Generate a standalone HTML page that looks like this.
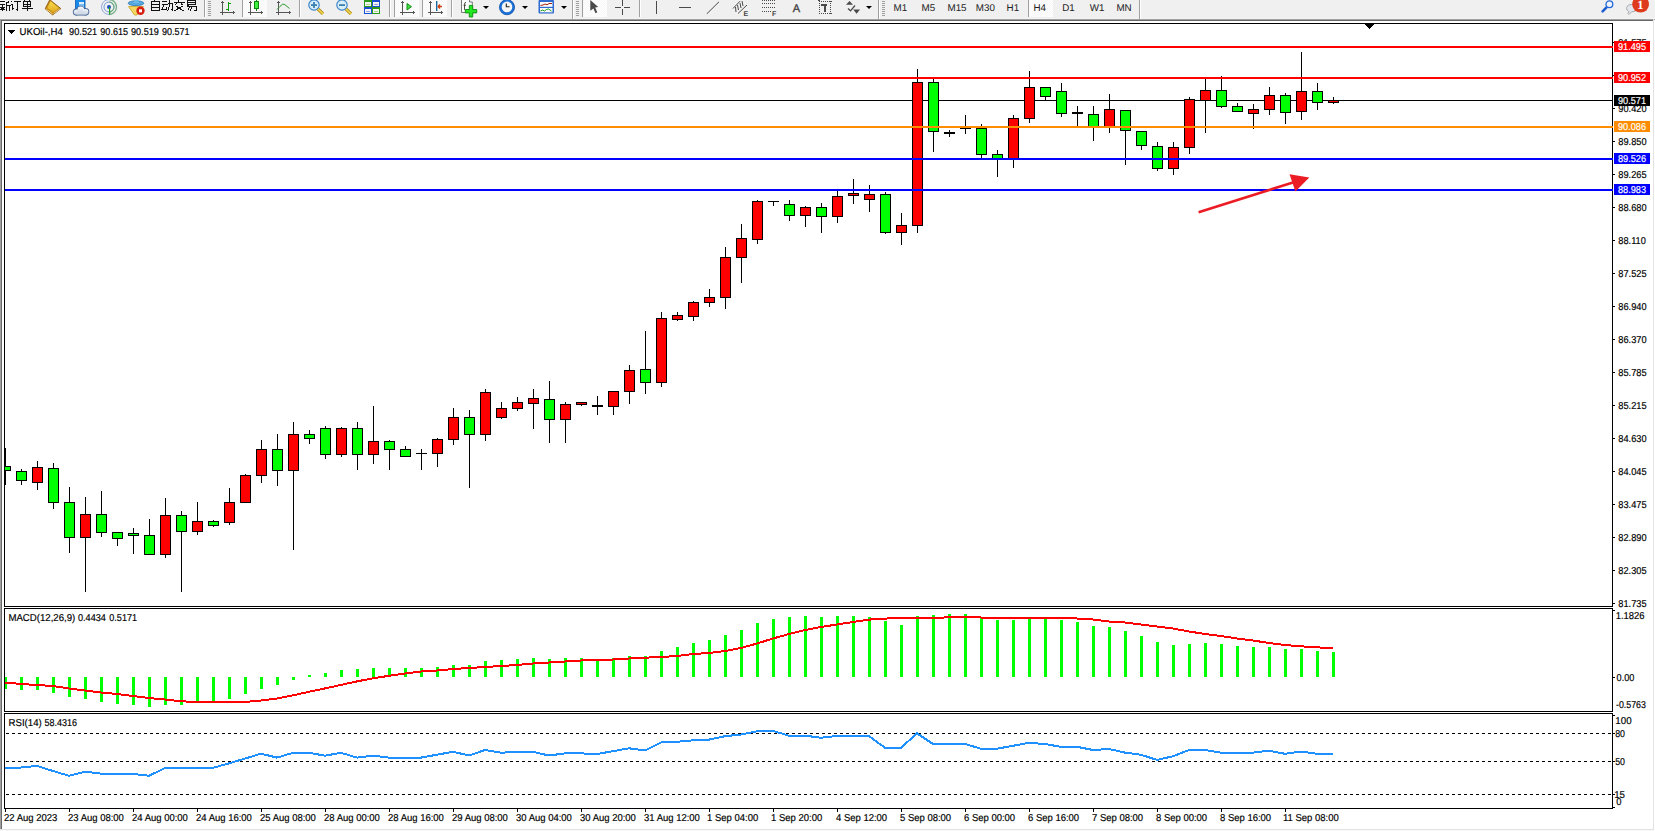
<!DOCTYPE html>
<html><head><meta charset="utf-8"><style>
html,body{margin:0;padding:0;background:#f0f0f0;overflow:hidden}
body{width:1655px;height:831px;position:relative}
svg text{font-family:"Liberation Sans",sans-serif;font-size:9.4px;fill:#000;text-rendering:geometricPrecision}
.tl{font-size:9.5px}
</style></head><body>
<svg width="1655" height="831" viewBox="0 0 1655 831" style="position:absolute;left:0;top:0;display:block">
<rect x="0" y="0" width="1655" height="19" fill="#f0f0f0"/>
<g shape-rendering="crispEdges">
<rect x="0" y="19" width="1654" height="1" fill="#a0a0a0"/>
<rect x="0" y="19" width="1" height="811" fill="#a0a0a0"/>
<rect x="1" y="20" width="1652" height="1" fill="#696969"/>
<rect x="1" y="20" width="1" height="809" fill="#696969"/>
<rect x="2" y="21" width="1651" height="808" fill="#ffffff"/>
<rect x="1653" y="19" width="1" height="811" fill="#e3e3e3"/>
<rect x="0" y="829" width="1654" height="1" fill="#e3e3e3"/>
<rect x="0" y="830" width="1655" height="1" fill="#f8f8f8"/>
<rect x="1654" y="19" width="1" height="1" fill="#a0a0a0"/>
<rect x="1654" y="20" width="1" height="811" fill="#ffffff"/>
<rect x="1" y="18" width="1653" height="1" fill="#f4f4f4"/>
<svg x="5" y="24" width="1607" height="582" overflow="hidden"><g transform="translate(-5,-24)">
<rect x="5" y="100" width="1607" height="1" fill="#000"/>
<rect x="5" y="448" width="1" height="37" fill="#000"/>
<rect x="0" y="466" width="11" height="5" fill="#000"/>
<rect x="1" y="467" width="9" height="3" fill="#00ff00"/>
<rect x="21" y="469" width="1" height="16" fill="#000"/>
<rect x="16" y="471" width="11" height="10" fill="#000"/>
<rect x="17" y="472" width="9" height="8" fill="#00ff00"/>
<rect x="37" y="461" width="1" height="29" fill="#000"/>
<rect x="32" y="467" width="11" height="16" fill="#000"/>
<rect x="33" y="468" width="9" height="14" fill="#ff0000"/>
<rect x="53" y="463" width="1" height="46" fill="#000"/>
<rect x="48" y="468" width="11" height="35" fill="#000"/>
<rect x="49" y="469" width="9" height="33" fill="#00ff00"/>
<rect x="69" y="487" width="1" height="66" fill="#000"/>
<rect x="64" y="502" width="11" height="36" fill="#000"/>
<rect x="65" y="503" width="9" height="34" fill="#00ff00"/>
<rect x="85" y="497" width="1" height="95" fill="#000"/>
<rect x="80" y="514" width="11" height="24" fill="#000"/>
<rect x="81" y="515" width="9" height="22" fill="#ff0000"/>
<rect x="101" y="491" width="1" height="46" fill="#000"/>
<rect x="96" y="514" width="11" height="19" fill="#000"/>
<rect x="97" y="515" width="9" height="17" fill="#00ff00"/>
<rect x="117" y="532" width="1" height="14" fill="#000"/>
<rect x="112" y="532" width="11" height="7" fill="#000"/>
<rect x="113" y="533" width="9" height="5" fill="#00ff00"/>
<rect x="133" y="528" width="1" height="26" fill="#000"/>
<rect x="128" y="533" width="11" height="3" fill="#000"/>
<rect x="129" y="534" width="9" height="1" fill="#00ff00"/>
<rect x="149" y="519" width="1" height="36" fill="#000"/>
<rect x="144" y="535" width="11" height="20" fill="#000"/>
<rect x="145" y="536" width="9" height="18" fill="#00ff00"/>
<rect x="165" y="498" width="1" height="60" fill="#000"/>
<rect x="160" y="515" width="11" height="40" fill="#000"/>
<rect x="161" y="516" width="9" height="38" fill="#ff0000"/>
<rect x="181" y="511" width="1" height="81" fill="#000"/>
<rect x="176" y="515" width="11" height="17" fill="#000"/>
<rect x="177" y="516" width="9" height="15" fill="#00ff00"/>
<rect x="197" y="502" width="1" height="33" fill="#000"/>
<rect x="192" y="521" width="11" height="11" fill="#000"/>
<rect x="193" y="522" width="9" height="9" fill="#ff0000"/>
<rect x="213" y="520" width="1" height="7" fill="#000"/>
<rect x="208" y="521" width="11" height="5" fill="#000"/>
<rect x="209" y="522" width="9" height="3" fill="#00ff00"/>
<rect x="229" y="488" width="1" height="37" fill="#000"/>
<rect x="224" y="502" width="11" height="21" fill="#000"/>
<rect x="225" y="503" width="9" height="19" fill="#ff0000"/>
<rect x="245" y="474" width="1" height="29" fill="#000"/>
<rect x="240" y="475" width="11" height="28" fill="#000"/>
<rect x="241" y="476" width="9" height="26" fill="#ff0000"/>
<rect x="261" y="440" width="1" height="43" fill="#000"/>
<rect x="256" y="449" width="11" height="27" fill="#000"/>
<rect x="257" y="450" width="9" height="25" fill="#ff0000"/>
<rect x="277" y="434" width="1" height="52" fill="#000"/>
<rect x="272" y="449" width="11" height="22" fill="#000"/>
<rect x="273" y="450" width="9" height="20" fill="#00ff00"/>
<rect x="293" y="422" width="1" height="128" fill="#000"/>
<rect x="288" y="434" width="11" height="37" fill="#000"/>
<rect x="289" y="435" width="9" height="35" fill="#ff0000"/>
<rect x="309" y="430" width="1" height="14" fill="#000"/>
<rect x="304" y="434" width="11" height="5" fill="#000"/>
<rect x="305" y="435" width="9" height="3" fill="#00ff00"/>
<rect x="325" y="426" width="1" height="33" fill="#000"/>
<rect x="320" y="428" width="11" height="27" fill="#000"/>
<rect x="321" y="429" width="9" height="25" fill="#00ff00"/>
<rect x="341" y="427" width="1" height="30" fill="#000"/>
<rect x="336" y="428" width="11" height="27" fill="#000"/>
<rect x="337" y="429" width="9" height="25" fill="#ff0000"/>
<rect x="357" y="422" width="1" height="48" fill="#000"/>
<rect x="352" y="428" width="11" height="27" fill="#000"/>
<rect x="353" y="429" width="9" height="25" fill="#00ff00"/>
<rect x="373" y="406" width="1" height="58" fill="#000"/>
<rect x="368" y="441" width="11" height="14" fill="#000"/>
<rect x="369" y="442" width="9" height="12" fill="#ff0000"/>
<rect x="389" y="440" width="1" height="30" fill="#000"/>
<rect x="384" y="441" width="11" height="9" fill="#000"/>
<rect x="385" y="442" width="9" height="7" fill="#00ff00"/>
<rect x="405" y="446" width="1" height="11" fill="#000"/>
<rect x="400" y="449" width="11" height="8" fill="#000"/>
<rect x="401" y="450" width="9" height="6" fill="#00ff00"/>
<rect x="421" y="449" width="1" height="21" fill="#000"/>
<rect x="416" y="453" width="11" height="1" fill="#000"/>
<rect x="437" y="438" width="1" height="29" fill="#000"/>
<rect x="432" y="439" width="11" height="15" fill="#000"/>
<rect x="433" y="440" width="9" height="13" fill="#ff0000"/>
<rect x="453" y="408" width="1" height="37" fill="#000"/>
<rect x="448" y="417" width="11" height="23" fill="#000"/>
<rect x="449" y="418" width="9" height="21" fill="#ff0000"/>
<rect x="469" y="410" width="1" height="78" fill="#000"/>
<rect x="464" y="417" width="11" height="18" fill="#000"/>
<rect x="465" y="418" width="9" height="16" fill="#00ff00"/>
<rect x="485" y="389" width="1" height="52" fill="#000"/>
<rect x="480" y="392" width="11" height="43" fill="#000"/>
<rect x="481" y="393" width="9" height="41" fill="#ff0000"/>
<rect x="501" y="402" width="1" height="17" fill="#000"/>
<rect x="496" y="408" width="11" height="10" fill="#000"/>
<rect x="497" y="409" width="9" height="8" fill="#ff0000"/>
<rect x="517" y="397" width="1" height="14" fill="#000"/>
<rect x="512" y="402" width="11" height="7" fill="#000"/>
<rect x="513" y="403" width="9" height="5" fill="#ff0000"/>
<rect x="533" y="389" width="1" height="40" fill="#000"/>
<rect x="528" y="398" width="11" height="6" fill="#000"/>
<rect x="529" y="399" width="9" height="4" fill="#ff0000"/>
<rect x="549" y="381" width="1" height="62" fill="#000"/>
<rect x="544" y="399" width="11" height="21" fill="#000"/>
<rect x="545" y="400" width="9" height="19" fill="#00ff00"/>
<rect x="565" y="402" width="1" height="41" fill="#000"/>
<rect x="560" y="404" width="11" height="16" fill="#000"/>
<rect x="561" y="405" width="9" height="14" fill="#ff0000"/>
<rect x="581" y="402" width="1" height="4" fill="#000"/>
<rect x="576" y="402" width="11" height="3" fill="#000"/>
<rect x="577" y="403" width="9" height="1" fill="#ff0000"/>
<rect x="597" y="396" width="1" height="19" fill="#000"/>
<rect x="592" y="405" width="11" height="2" fill="#000"/>
<rect x="613" y="391" width="1" height="24" fill="#000"/>
<rect x="608" y="391" width="11" height="16" fill="#000"/>
<rect x="609" y="392" width="9" height="14" fill="#ff0000"/>
<rect x="629" y="365" width="1" height="39" fill="#000"/>
<rect x="624" y="370" width="11" height="22" fill="#000"/>
<rect x="625" y="371" width="9" height="20" fill="#ff0000"/>
<rect x="645" y="331" width="1" height="63" fill="#000"/>
<rect x="640" y="369" width="11" height="14" fill="#000"/>
<rect x="641" y="370" width="9" height="12" fill="#00ff00"/>
<rect x="661" y="312" width="1" height="75" fill="#000"/>
<rect x="656" y="318" width="11" height="65" fill="#000"/>
<rect x="657" y="319" width="9" height="63" fill="#ff0000"/>
<rect x="677" y="312" width="1" height="9" fill="#000"/>
<rect x="672" y="315" width="11" height="5" fill="#000"/>
<rect x="673" y="316" width="9" height="3" fill="#ff0000"/>
<rect x="693" y="301" width="1" height="20" fill="#000"/>
<rect x="688" y="302" width="11" height="15" fill="#000"/>
<rect x="689" y="303" width="9" height="13" fill="#ff0000"/>
<rect x="709" y="289" width="1" height="18" fill="#000"/>
<rect x="704" y="297" width="11" height="6" fill="#000"/>
<rect x="705" y="298" width="9" height="4" fill="#ff0000"/>
<rect x="725" y="247" width="1" height="62" fill="#000"/>
<rect x="720" y="257" width="11" height="41" fill="#000"/>
<rect x="721" y="258" width="9" height="39" fill="#ff0000"/>
<rect x="741" y="224" width="1" height="59" fill="#000"/>
<rect x="736" y="238" width="11" height="20" fill="#000"/>
<rect x="737" y="239" width="9" height="18" fill="#ff0000"/>
<rect x="757" y="200" width="1" height="44" fill="#000"/>
<rect x="752" y="201" width="11" height="39" fill="#000"/>
<rect x="753" y="202" width="9" height="37" fill="#ff0000"/>
<rect x="773" y="201" width="1" height="5" fill="#000"/>
<rect x="768" y="201" width="11" height="1" fill="#000"/>
<rect x="789" y="200" width="1" height="21" fill="#000"/>
<rect x="784" y="204" width="11" height="12" fill="#000"/>
<rect x="785" y="205" width="9" height="10" fill="#00ff00"/>
<rect x="805" y="206" width="1" height="21" fill="#000"/>
<rect x="800" y="207" width="11" height="9" fill="#000"/>
<rect x="801" y="208" width="9" height="7" fill="#ff0000"/>
<rect x="821" y="203" width="1" height="30" fill="#000"/>
<rect x="816" y="207" width="11" height="10" fill="#000"/>
<rect x="817" y="208" width="9" height="8" fill="#00ff00"/>
<rect x="837" y="191" width="1" height="32" fill="#000"/>
<rect x="832" y="196" width="11" height="21" fill="#000"/>
<rect x="833" y="197" width="9" height="19" fill="#ff0000"/>
<rect x="853" y="179" width="1" height="25" fill="#000"/>
<rect x="848" y="193" width="11" height="3" fill="#000"/>
<rect x="849" y="194" width="9" height="1" fill="#ff0000"/>
<rect x="869" y="185" width="1" height="27" fill="#000"/>
<rect x="864" y="194" width="11" height="6" fill="#000"/>
<rect x="865" y="195" width="9" height="4" fill="#ff0000"/>
<rect x="885" y="192" width="1" height="42" fill="#000"/>
<rect x="880" y="194" width="11" height="39" fill="#000"/>
<rect x="881" y="195" width="9" height="37" fill="#00ff00"/>
<rect x="901" y="213" width="1" height="32" fill="#000"/>
<rect x="896" y="225" width="11" height="8" fill="#000"/>
<rect x="897" y="226" width="9" height="6" fill="#ff0000"/>
<rect x="917" y="69" width="1" height="164" fill="#000"/>
<rect x="912" y="82" width="11" height="144" fill="#000"/>
<rect x="913" y="83" width="9" height="142" fill="#ff0000"/>
<rect x="933" y="79" width="1" height="73" fill="#000"/>
<rect x="928" y="82" width="11" height="50" fill="#000"/>
<rect x="929" y="83" width="9" height="48" fill="#00ff00"/>
<rect x="949" y="130" width="1" height="7" fill="#000"/>
<rect x="944" y="132" width="11" height="2" fill="#000"/>
<rect x="965" y="115" width="1" height="19" fill="#000"/>
<rect x="960" y="128" width="11" height="1" fill="#000"/>
<rect x="981" y="124" width="1" height="34" fill="#000"/>
<rect x="976" y="128" width="11" height="27" fill="#000"/>
<rect x="977" y="129" width="9" height="25" fill="#00ff00"/>
<rect x="997" y="150" width="1" height="27" fill="#000"/>
<rect x="992" y="154" width="11" height="5" fill="#000"/>
<rect x="993" y="155" width="9" height="3" fill="#00ff00"/>
<rect x="1013" y="115" width="1" height="53" fill="#000"/>
<rect x="1008" y="118" width="11" height="41" fill="#000"/>
<rect x="1009" y="119" width="9" height="39" fill="#ff0000"/>
<rect x="1029" y="71" width="1" height="52" fill="#000"/>
<rect x="1024" y="87" width="11" height="32" fill="#000"/>
<rect x="1025" y="88" width="9" height="30" fill="#ff0000"/>
<rect x="1045" y="87" width="1" height="13" fill="#000"/>
<rect x="1040" y="87" width="11" height="10" fill="#000"/>
<rect x="1041" y="88" width="9" height="8" fill="#00ff00"/>
<rect x="1061" y="83" width="1" height="34" fill="#000"/>
<rect x="1056" y="91" width="11" height="23" fill="#000"/>
<rect x="1057" y="92" width="9" height="21" fill="#00ff00"/>
<rect x="1077" y="106" width="1" height="20" fill="#000"/>
<rect x="1072" y="112" width="11" height="2" fill="#000"/>
<rect x="1093" y="106" width="1" height="35" fill="#000"/>
<rect x="1088" y="114" width="11" height="14" fill="#000"/>
<rect x="1089" y="115" width="9" height="12" fill="#00ff00"/>
<rect x="1109" y="94" width="1" height="39" fill="#000"/>
<rect x="1104" y="109" width="11" height="19" fill="#000"/>
<rect x="1105" y="110" width="9" height="17" fill="#ff0000"/>
<rect x="1125" y="110" width="1" height="55" fill="#000"/>
<rect x="1120" y="110" width="11" height="21" fill="#000"/>
<rect x="1121" y="111" width="9" height="19" fill="#00ff00"/>
<rect x="1141" y="131" width="1" height="19" fill="#000"/>
<rect x="1136" y="131" width="11" height="15" fill="#000"/>
<rect x="1137" y="132" width="9" height="13" fill="#00ff00"/>
<rect x="1157" y="142" width="1" height="29" fill="#000"/>
<rect x="1152" y="146" width="11" height="23" fill="#000"/>
<rect x="1153" y="147" width="9" height="21" fill="#00ff00"/>
<rect x="1173" y="142" width="1" height="33" fill="#000"/>
<rect x="1168" y="147" width="11" height="22" fill="#000"/>
<rect x="1169" y="148" width="9" height="20" fill="#ff0000"/>
<rect x="1189" y="97" width="1" height="57" fill="#000"/>
<rect x="1184" y="99" width="11" height="49" fill="#000"/>
<rect x="1185" y="100" width="9" height="47" fill="#ff0000"/>
<rect x="1205" y="78" width="1" height="55" fill="#000"/>
<rect x="1200" y="90" width="11" height="11" fill="#000"/>
<rect x="1201" y="91" width="9" height="9" fill="#ff0000"/>
<rect x="1221" y="76" width="1" height="32" fill="#000"/>
<rect x="1216" y="90" width="11" height="17" fill="#000"/>
<rect x="1217" y="91" width="9" height="15" fill="#00ff00"/>
<rect x="1237" y="103" width="1" height="9" fill="#000"/>
<rect x="1232" y="106" width="11" height="6" fill="#000"/>
<rect x="1233" y="107" width="9" height="4" fill="#00ff00"/>
<rect x="1253" y="104" width="1" height="25" fill="#000"/>
<rect x="1248" y="109" width="11" height="5" fill="#000"/>
<rect x="1249" y="110" width="9" height="3" fill="#ff0000"/>
<rect x="1269" y="87" width="1" height="28" fill="#000"/>
<rect x="1264" y="95" width="11" height="15" fill="#000"/>
<rect x="1265" y="96" width="9" height="13" fill="#ff0000"/>
<rect x="1285" y="93" width="1" height="31" fill="#000"/>
<rect x="1280" y="95" width="11" height="18" fill="#000"/>
<rect x="1281" y="96" width="9" height="16" fill="#00ff00"/>
<rect x="1301" y="52" width="1" height="68" fill="#000"/>
<rect x="1296" y="91" width="11" height="21" fill="#000"/>
<rect x="1297" y="92" width="9" height="19" fill="#ff0000"/>
<rect x="1317" y="83" width="1" height="27" fill="#000"/>
<rect x="1312" y="91" width="11" height="12" fill="#000"/>
<rect x="1313" y="92" width="9" height="10" fill="#00ff00"/>
<rect x="1333" y="97" width="1" height="7" fill="#000"/>
<rect x="1328" y="100" width="11" height="3" fill="#000"/>
<rect x="1329" y="101" width="9" height="1" fill="#ff0000"/>
<rect x="5" y="46" width="1607" height="2" fill="#ff0000"/>
<rect x="5" y="77" width="1607" height="2" fill="#ff0000"/>
<rect x="5" y="126" width="1607" height="2" fill="#ff8c00"/>
<rect x="5" y="158" width="1607" height="2" fill="#0000ff"/>
<rect x="5" y="189" width="1607" height="2" fill="#0000ff"/>
</g></svg>
<g shape-rendering="auto"><line x1="1198.6" y1="212.3" x2="1293" y2="182.4" stroke="#ec1c24" stroke-width="2.6"/><polygon points="1289.5,174.2 1309.3,177.6 1295.4,191.6" fill="#ec1c24"/></g>
<rect x="4" y="23" width="1609" height="1" fill="#000"/>
<rect x="4" y="606" width="1609" height="1" fill="#000"/>
<rect x="4" y="23" width="1" height="584" fill="#000"/>
<rect x="1612" y="23" width="1" height="584" fill="#000"/>
<rect x="4" y="608" width="1609" height="1" fill="#000"/>
<rect x="4" y="711" width="1609" height="1" fill="#000"/>
<rect x="4" y="608" width="1" height="104" fill="#000"/>
<rect x="1612" y="608" width="1" height="104" fill="#000"/>
<rect x="4" y="713" width="1609" height="1" fill="#000"/>
<rect x="4" y="808" width="1609" height="1" fill="#000"/>
<rect x="4" y="713" width="1" height="96" fill="#000"/>
<rect x="1612" y="713" width="1" height="96" fill="#000"/>
<rect x="1612" y="46" width="1" height="2" fill="#ff0000"/>
<rect x="1612" y="77" width="1" height="2" fill="#ff0000"/>
<rect x="1612" y="126" width="1" height="2" fill="#ff8c00"/>
<rect x="1612" y="158" width="1" height="2" fill="#0000ff"/>
<rect x="1612" y="189" width="1" height="2" fill="#0000ff"/>
<rect x="1365" y="24" width="9" height="1" fill="#000"/>
<rect x="1366" y="25" width="7" height="1" fill="#000"/>
<rect x="1367" y="26" width="5" height="1" fill="#000"/>
<rect x="1368" y="27" width="3" height="1" fill="#000"/>
<rect x="1369" y="28" width="1" height="1" fill="#000"/>
<rect x="8" y="30" width="7" height="1" fill="#000"/>
<rect x="9" y="31" width="5" height="1" fill="#000"/>
<rect x="10" y="32" width="3" height="1" fill="#000"/>
<rect x="11" y="33" width="1" height="1" fill="#000"/>
<rect x="5" y="677" width="2" height="12" fill="#00ff00"/>
<rect x="20" y="677" width="3" height="13" fill="#00ff00"/>
<rect x="36" y="677" width="3" height="13" fill="#00ff00"/>
<rect x="52" y="677" width="3" height="16" fill="#00ff00"/>
<rect x="68" y="677" width="3" height="20" fill="#00ff00"/>
<rect x="84" y="677" width="3" height="22" fill="#00ff00"/>
<rect x="100" y="677" width="3" height="25" fill="#00ff00"/>
<rect x="116" y="677" width="3" height="27" fill="#00ff00"/>
<rect x="132" y="677" width="3" height="28" fill="#00ff00"/>
<rect x="148" y="677" width="3" height="30" fill="#00ff00"/>
<rect x="164" y="677" width="3" height="28" fill="#00ff00"/>
<rect x="180" y="677" width="3" height="28" fill="#00ff00"/>
<rect x="196" y="677" width="3" height="24" fill="#00ff00"/>
<rect x="212" y="677" width="3" height="24" fill="#00ff00"/>
<rect x="228" y="677" width="3" height="22" fill="#00ff00"/>
<rect x="244" y="677" width="3" height="17" fill="#00ff00"/>
<rect x="260" y="677" width="3" height="12" fill="#00ff00"/>
<rect x="276" y="677" width="3" height="8" fill="#00ff00"/>
<rect x="292" y="677" width="3" height="3" fill="#00ff00"/>
<rect x="308" y="675" width="3" height="2" fill="#00ff00"/>
<rect x="324" y="673" width="3" height="4" fill="#00ff00"/>
<rect x="340" y="670" width="3" height="7" fill="#00ff00"/>
<rect x="356" y="669" width="3" height="8" fill="#00ff00"/>
<rect x="372" y="668" width="3" height="9" fill="#00ff00"/>
<rect x="388" y="668" width="3" height="9" fill="#00ff00"/>
<rect x="404" y="668" width="3" height="9" fill="#00ff00"/>
<rect x="420" y="668" width="3" height="9" fill="#00ff00"/>
<rect x="436" y="667" width="3" height="10" fill="#00ff00"/>
<rect x="452" y="665" width="3" height="12" fill="#00ff00"/>
<rect x="468" y="665" width="3" height="12" fill="#00ff00"/>
<rect x="484" y="661" width="3" height="16" fill="#00ff00"/>
<rect x="500" y="660" width="3" height="17" fill="#00ff00"/>
<rect x="516" y="659" width="3" height="18" fill="#00ff00"/>
<rect x="532" y="658" width="3" height="19" fill="#00ff00"/>
<rect x="548" y="659" width="3" height="18" fill="#00ff00"/>
<rect x="564" y="658" width="3" height="19" fill="#00ff00"/>
<rect x="580" y="658" width="3" height="19" fill="#00ff00"/>
<rect x="596" y="660" width="3" height="17" fill="#00ff00"/>
<rect x="612" y="658" width="3" height="19" fill="#00ff00"/>
<rect x="628" y="656" width="3" height="21" fill="#00ff00"/>
<rect x="644" y="656" width="3" height="21" fill="#00ff00"/>
<rect x="660" y="651" width="3" height="26" fill="#00ff00"/>
<rect x="676" y="647" width="3" height="30" fill="#00ff00"/>
<rect x="692" y="643" width="3" height="34" fill="#00ff00"/>
<rect x="708" y="640" width="3" height="37" fill="#00ff00"/>
<rect x="724" y="635" width="3" height="42" fill="#00ff00"/>
<rect x="740" y="630" width="3" height="47" fill="#00ff00"/>
<rect x="756" y="623" width="3" height="54" fill="#00ff00"/>
<rect x="772" y="619" width="3" height="58" fill="#00ff00"/>
<rect x="788" y="617" width="3" height="60" fill="#00ff00"/>
<rect x="804" y="616" width="3" height="61" fill="#00ff00"/>
<rect x="820" y="617" width="3" height="60" fill="#00ff00"/>
<rect x="836" y="616" width="3" height="61" fill="#00ff00"/>
<rect x="852" y="616" width="3" height="61" fill="#00ff00"/>
<rect x="868" y="617" width="3" height="60" fill="#00ff00"/>
<rect x="884" y="621" width="3" height="56" fill="#00ff00"/>
<rect x="900" y="625" width="3" height="52" fill="#00ff00"/>
<rect x="916" y="616" width="3" height="61" fill="#00ff00"/>
<rect x="932" y="615" width="3" height="62" fill="#00ff00"/>
<rect x="948" y="614" width="3" height="63" fill="#00ff00"/>
<rect x="964" y="614" width="3" height="63" fill="#00ff00"/>
<rect x="980" y="617" width="3" height="60" fill="#00ff00"/>
<rect x="996" y="620" width="3" height="57" fill="#00ff00"/>
<rect x="1012" y="620" width="3" height="57" fill="#00ff00"/>
<rect x="1028" y="618" width="3" height="59" fill="#00ff00"/>
<rect x="1044" y="618" width="3" height="59" fill="#00ff00"/>
<rect x="1060" y="620" width="3" height="57" fill="#00ff00"/>
<rect x="1076" y="622" width="3" height="55" fill="#00ff00"/>
<rect x="1092" y="626" width="3" height="51" fill="#00ff00"/>
<rect x="1108" y="627" width="3" height="50" fill="#00ff00"/>
<rect x="1124" y="631" width="3" height="46" fill="#00ff00"/>
<rect x="1140" y="636" width="3" height="41" fill="#00ff00"/>
<rect x="1156" y="642" width="3" height="35" fill="#00ff00"/>
<rect x="1172" y="645" width="3" height="32" fill="#00ff00"/>
<rect x="1188" y="644" width="3" height="33" fill="#00ff00"/>
<rect x="1204" y="643" width="3" height="34" fill="#00ff00"/>
<rect x="1220" y="644" width="3" height="33" fill="#00ff00"/>
<rect x="1236" y="646" width="3" height="31" fill="#00ff00"/>
<rect x="1252" y="647" width="3" height="30" fill="#00ff00"/>
<rect x="1268" y="647" width="3" height="30" fill="#00ff00"/>
<rect x="1284" y="649" width="3" height="28" fill="#00ff00"/>
<rect x="1300" y="649" width="3" height="28" fill="#00ff00"/>
<rect x="1316" y="651" width="3" height="26" fill="#00ff00"/>
<rect x="1332" y="652" width="3" height="25" fill="#00ff00"/>
<polyline points="5,682.5 21,684.0 37,685.0 53,686.0 69,688.5 85,690.5 101,692.5 117,694.0 133,696.0 149,698.0 165,699.5 181,701.3 197,702.0 213,702.0 229,702.0 245,702.0 261,700.5 277,698.5 293,695.3 309,691.8 325,688.4 341,684.9 357,681.4 373,678.3 389,675.8 405,673.5 421,671.5 437,670.5 453,669.0 469,668.0 485,667.0 501,666.0 517,665.0 533,663.5 549,662.5 565,661.5 581,660.5 597,660.0 613,659.5 629,658.5 645,657.7 661,657.0 677,656.0 693,654.0 709,653.0 725,651.0 741,648.0 757,643.5 773,638.5 789,634.0 805,630.0 821,627.0 837,624.5 853,622.0 869,619.6 885,618.6 901,618.0 917,618.0 933,618.0 949,617.3 965,617.0 981,617.5 997,618.0 1013,618.0 1029,618.0 1045,617.5 1061,617.5 1077,618.5 1093,619.5 1109,621.5 1125,622.5 1141,624.5 1157,626.5 1173,628.5 1189,631.5 1205,634.0 1221,636.0 1237,638.5 1253,640.5 1269,643.0 1285,645.0 1301,646.3 1317,647.3 1333,648.3" fill="none" stroke="#ff0000" stroke-width="2"/>
<line x1="6" y1="733.5" x2="1612" y2="733.5" stroke="#000" stroke-width="1" stroke-dasharray="3,3"/>
<line x1="6" y1="761.5" x2="1612" y2="761.5" stroke="#000" stroke-width="1" stroke-dasharray="3,3"/>
<line x1="6" y1="794.5" x2="1612" y2="794.5" stroke="#000" stroke-width="1" stroke-dasharray="3,3"/>
<polyline points="5,767.5 21,767.5 37,765.9 53,771.0 69,775.8 85,771.7 101,773.6 117,773.9 133,773.9 149,775.8 165,768.0 181,768.5 197,767.8 213,767.8 229,763.4 245,758.6 261,753.7 277,757.6 293,752.8 309,752.8 325,755.7 341,752.8 357,757.6 373,755.7 389,757.6 405,757.6 421,757.6 437,754.7 453,751.8 469,755.5 485,750.0 501,752.6 517,752.2 533,751.9 549,755.5 565,753.4 581,753.4 597,754.0 613,751.2 629,748.3 645,750.5 661,742.5 677,741.8 693,740.3 709,739.6 725,736.2 741,734.5 757,731.3 773,730.9 789,735.7 805,735.7 821,737.7 837,736.0 853,736.0 869,736.0 885,747.8 901,747.8 917,733.3 933,744.0 949,744.0 965,744.0 981,748.7 997,748.7 1013,745.8 1029,742.8 1045,744.0 1061,746.8 1077,746.8 1093,750.0 1109,749.0 1125,752.6 1141,754.8 1157,759.9 1173,756.3 1189,750.0 1205,750.0 1221,752.6 1237,752.6 1253,752.6 1269,750.7 1285,753.8 1301,751.6 1317,753.8 1333,753.8" fill="none" stroke="#1e90ff" stroke-width="2"/>
<rect x="1613" y="42" width="2" height="1" fill="#000"/>
<rect x="1613" y="75" width="2" height="1" fill="#000"/>
<rect x="1613" y="108" width="2" height="1" fill="#000"/>
<rect x="1613" y="141" width="2" height="1" fill="#000"/>
<rect x="1613" y="174" width="2" height="1" fill="#000"/>
<rect x="1613" y="207" width="2" height="1" fill="#000"/>
<rect x="1613" y="240" width="2" height="1" fill="#000"/>
<rect x="1613" y="273" width="2" height="1" fill="#000"/>
<rect x="1613" y="306" width="2" height="1" fill="#000"/>
<rect x="1613" y="339" width="2" height="1" fill="#000"/>
<rect x="1613" y="372" width="2" height="1" fill="#000"/>
<rect x="1613" y="405" width="2" height="1" fill="#000"/>
<rect x="1613" y="438" width="2" height="1" fill="#000"/>
<rect x="1613" y="471" width="2" height="1" fill="#000"/>
<rect x="1613" y="504" width="2" height="1" fill="#000"/>
<rect x="1613" y="537" width="2" height="1" fill="#000"/>
<rect x="1613" y="570" width="2" height="1" fill="#000"/>
<rect x="1613" y="603" width="2" height="1" fill="#000"/>
<rect x="1613" y="610" width="2" height="1" fill="#000"/>
<rect x="1613" y="677" width="2" height="1" fill="#000"/>
<rect x="1613" y="715" width="2" height="1" fill="#000"/>
<rect x="1613" y="733" width="2" height="1" fill="#000"/>
<rect x="1613" y="761" width="2" height="1" fill="#000"/>
<rect x="1613" y="794" width="2" height="1" fill="#000"/>
<rect x="1613" y="807" width="2" height="1" fill="#000"/>
<rect x="5" y="809" width="1" height="3" fill="#000"/>
<rect x="69" y="809" width="1" height="3" fill="#000"/>
<rect x="133" y="809" width="1" height="3" fill="#000"/>
<rect x="197" y="809" width="1" height="3" fill="#000"/>
<rect x="261" y="809" width="1" height="3" fill="#000"/>
<rect x="325" y="809" width="1" height="3" fill="#000"/>
<rect x="389" y="809" width="1" height="3" fill="#000"/>
<rect x="453" y="809" width="1" height="3" fill="#000"/>
<rect x="517" y="809" width="1" height="3" fill="#000"/>
<rect x="581" y="809" width="1" height="3" fill="#000"/>
<rect x="645" y="809" width="1" height="3" fill="#000"/>
<rect x="709" y="809" width="1" height="3" fill="#000"/>
<rect x="773" y="809" width="1" height="3" fill="#000"/>
<rect x="837" y="809" width="1" height="3" fill="#000"/>
<rect x="901" y="809" width="1" height="3" fill="#000"/>
<rect x="965" y="809" width="1" height="3" fill="#000"/>
<rect x="1029" y="809" width="1" height="3" fill="#000"/>
<rect x="1093" y="809" width="1" height="3" fill="#000"/>
<rect x="1157" y="809" width="1" height="3" fill="#000"/>
<rect x="1221" y="809" width="1" height="3" fill="#000"/>
<rect x="1285" y="809" width="1" height="3" fill="#000"/>
</g>
<g>
<text transform="translate(1618.30,46) scale(0.9233,1)" style="font-size:10px;fill:#000;stroke:#000;stroke-width:0.18px">91.575</text>
<text transform="translate(1618.30,79) scale(0.9233,1)" style="font-size:10px;fill:#000;stroke:#000;stroke-width:0.18px">91.005</text>
<text transform="translate(1618.30,112) scale(0.9233,1)" style="font-size:10px;fill:#000;stroke:#000;stroke-width:0.18px">90.420</text>
<text transform="translate(1618.30,145) scale(0.9233,1)" style="font-size:10px;fill:#000;stroke:#000;stroke-width:0.18px">89.850</text>
<text transform="translate(1618.30,178) scale(0.9233,1)" style="font-size:10px;fill:#000;stroke:#000;stroke-width:0.18px">89.265</text>
<text transform="translate(1618.30,211) scale(0.9233,1)" style="font-size:10px;fill:#000;stroke:#000;stroke-width:0.18px">88.680</text>
<text transform="translate(1618.30,244) scale(0.9233,1)" style="font-size:10px;fill:#000;stroke:#000;stroke-width:0.18px">88.110</text>
<text transform="translate(1618.30,277) scale(0.9233,1)" style="font-size:10px;fill:#000;stroke:#000;stroke-width:0.18px">87.525</text>
<text transform="translate(1618.30,310) scale(0.9233,1)" style="font-size:10px;fill:#000;stroke:#000;stroke-width:0.18px">86.940</text>
<text transform="translate(1618.30,343) scale(0.9233,1)" style="font-size:10px;fill:#000;stroke:#000;stroke-width:0.18px">86.370</text>
<text transform="translate(1618.30,376) scale(0.9233,1)" style="font-size:10px;fill:#000;stroke:#000;stroke-width:0.18px">85.785</text>
<text transform="translate(1618.30,409) scale(0.9233,1)" style="font-size:10px;fill:#000;stroke:#000;stroke-width:0.18px">85.215</text>
<text transform="translate(1618.30,442) scale(0.9233,1)" style="font-size:10px;fill:#000;stroke:#000;stroke-width:0.18px">84.630</text>
<text transform="translate(1618.30,475) scale(0.9233,1)" style="font-size:10px;fill:#000;stroke:#000;stroke-width:0.18px">84.045</text>
<text transform="translate(1618.30,508) scale(0.9233,1)" style="font-size:10px;fill:#000;stroke:#000;stroke-width:0.18px">83.475</text>
<text transform="translate(1618.30,541) scale(0.9233,1)" style="font-size:10px;fill:#000;stroke:#000;stroke-width:0.18px">82.890</text>
<text transform="translate(1618.30,574) scale(0.9233,1)" style="font-size:10px;fill:#000;stroke:#000;stroke-width:0.18px">82.305</text>
<text transform="translate(1618.30,607) scale(0.9233,1)" style="font-size:10px;fill:#000;stroke:#000;stroke-width:0.18px">81.735</text>
<text transform="translate(1615.66,619) scale(0.9448,1)" style="font-size:10px;fill:#000;stroke:#000;stroke-width:0.18px">1.1826</text>
<text transform="translate(1616.60,681) scale(0.9158,1)" style="font-size:10px;fill:#000;stroke:#000;stroke-width:0.18px">0.00</text>
<text transform="translate(1616.00,708) scale(0.8824,1)" style="font-size:10px;fill:#000;stroke:#000;stroke-width:0.18px">-0.5763</text>
<text transform="translate(1615.33,724) scale(0.9733,1)" style="font-size:10px;fill:#000;stroke:#000;stroke-width:0.18px">100</text>
<text transform="translate(1615.20,737) scale(0.8818,1)" style="font-size:10px;fill:#000;stroke:#000;stroke-width:0.18px">80</text>
<text transform="translate(1615.20,765) scale(0.8818,1)" style="font-size:10px;fill:#000;stroke:#000;stroke-width:0.18px">50</text>
<text transform="translate(1614.23,798) scale(0.9700,1)" style="font-size:10px;fill:#000;stroke:#000;stroke-width:0.18px">15</text>
<text transform="translate(1616.30,805) scale(0.9400,1)" style="font-size:10px;fill:#000;stroke:#000;stroke-width:0.18px">0</text>
<text transform="translate(4.00,821) scale(0.9480,1)" style="font-size:10px;fill:#000;stroke:#000;stroke-width:0.18px">22 Aug 2023</text>
<text transform="translate(68.00,821) scale(0.9480,1)" style="font-size:10px;fill:#000;stroke:#000;stroke-width:0.18px">23 Aug 08:00</text>
<text transform="translate(132.00,821) scale(0.9480,1)" style="font-size:10px;fill:#000;stroke:#000;stroke-width:0.18px">24 Aug 00:00</text>
<text transform="translate(196.00,821) scale(0.9480,1)" style="font-size:10px;fill:#000;stroke:#000;stroke-width:0.18px">24 Aug 16:00</text>
<text transform="translate(260.00,821) scale(0.9480,1)" style="font-size:10px;fill:#000;stroke:#000;stroke-width:0.18px">25 Aug 08:00</text>
<text transform="translate(324.00,821) scale(0.9480,1)" style="font-size:10px;fill:#000;stroke:#000;stroke-width:0.18px">28 Aug 00:00</text>
<text transform="translate(388.00,821) scale(0.9480,1)" style="font-size:10px;fill:#000;stroke:#000;stroke-width:0.18px">28 Aug 16:00</text>
<text transform="translate(452.00,821) scale(0.9480,1)" style="font-size:10px;fill:#000;stroke:#000;stroke-width:0.18px">29 Aug 08:00</text>
<text transform="translate(516.00,821) scale(0.9480,1)" style="font-size:10px;fill:#000;stroke:#000;stroke-width:0.18px">30 Aug 04:00</text>
<text transform="translate(580.00,821) scale(0.9480,1)" style="font-size:10px;fill:#000;stroke:#000;stroke-width:0.18px">30 Aug 20:00</text>
<text transform="translate(644.00,821) scale(0.9480,1)" style="font-size:10px;fill:#000;stroke:#000;stroke-width:0.18px">31 Aug 12:00</text>
<text transform="translate(707.05,821) scale(0.9480,1)" style="font-size:10px;fill:#000;stroke:#000;stroke-width:0.18px">1 Sep 04:00</text>
<text transform="translate(771.05,821) scale(0.9480,1)" style="font-size:10px;fill:#000;stroke:#000;stroke-width:0.18px">1 Sep 20:00</text>
<text transform="translate(836.00,821) scale(0.9480,1)" style="font-size:10px;fill:#000;stroke:#000;stroke-width:0.18px">4 Sep 12:00</text>
<text transform="translate(900.00,821) scale(0.9480,1)" style="font-size:10px;fill:#000;stroke:#000;stroke-width:0.18px">5 Sep 08:00</text>
<text transform="translate(964.00,821) scale(0.9480,1)" style="font-size:10px;fill:#000;stroke:#000;stroke-width:0.18px">6 Sep 00:00</text>
<text transform="translate(1028.00,821) scale(0.9480,1)" style="font-size:10px;fill:#000;stroke:#000;stroke-width:0.18px">6 Sep 16:00</text>
<text transform="translate(1092.00,821) scale(0.9480,1)" style="font-size:10px;fill:#000;stroke:#000;stroke-width:0.18px">7 Sep 08:00</text>
<text transform="translate(1156.00,821) scale(0.9480,1)" style="font-size:10px;fill:#000;stroke:#000;stroke-width:0.18px">8 Sep 00:00</text>
<text transform="translate(1220.00,821) scale(0.9480,1)" style="font-size:10px;fill:#000;stroke:#000;stroke-width:0.18px">8 Sep 16:00</text>
<text transform="translate(1283.05,821) scale(0.9480,1)" style="font-size:10px;fill:#000;stroke:#000;stroke-width:0.18px">11 Sep 08:00</text>
<text transform="translate(19.54,35) scale(0.9614,1)" style="font-size:10px;fill:#000;stroke:#000;stroke-width:0.18px">UKOil-,H4</text>
<text transform="translate(69.10,35) scale(0.9200,1)" style="font-size:10px;fill:#000;stroke:#000;stroke-width:0.18px">90.521</text>
<text transform="translate(100.30,35) scale(0.9067,1)" style="font-size:10px;fill:#000;stroke:#000;stroke-width:0.18px">90.615</text>
<text transform="translate(131.00,35) scale(0.9100,1)" style="font-size:10px;fill:#000;stroke:#000;stroke-width:0.18px">90.519</text>
<text transform="translate(162.00,35) scale(0.9000,1)" style="font-size:10px;fill:#000;stroke:#000;stroke-width:0.18px">90.571</text>
<text transform="translate(8.44,621) scale(0.9618,1)" style="font-size:10px;fill:#000;stroke:#000;stroke-width:0.18px">MACD(12,26,9)</text>
<text transform="translate(78.00,621) scale(0.9133,1)" style="font-size:10px;fill:#000;stroke:#000;stroke-width:0.18px">0.4434</text>
<text transform="translate(109.30,621) scale(0.9067,1)" style="font-size:10px;fill:#000;stroke:#000;stroke-width:0.18px">0.5171</text>
<text transform="translate(8.54,726) scale(0.9636,1)" style="font-size:10px;fill:#000;stroke:#000;stroke-width:0.18px">RSI(14)</text>
<text transform="translate(44.60,726) scale(0.8972,1)" style="font-size:10px;fill:#000;stroke:#000;stroke-width:0.18px">58.4316</text>
<rect x="1614" y="41" width="36" height="11" fill="#ff0000" shape-rendering="crispEdges"/>
<text transform="translate(1618.00,50) scale(0.9167,1)" style="font-size:10px;fill:#fff;stroke:#fff;stroke-width:0.18px">91.495</text>
<rect x="1614" y="72" width="36" height="11" fill="#ff0000" shape-rendering="crispEdges"/>
<text transform="translate(1618.00,81) scale(0.9167,1)" style="font-size:10px;fill:#fff;stroke:#fff;stroke-width:0.18px">90.952</text>
<rect x="1614" y="95" width="36" height="11" fill="#000000" shape-rendering="crispEdges"/>
<text transform="translate(1618.00,104) scale(0.9167,1)" style="font-size:10px;fill:#fff;stroke:#fff;stroke-width:0.18px">90.571</text>
<rect x="1614" y="121" width="36" height="11" fill="#ff8c00" shape-rendering="crispEdges"/>
<text transform="translate(1618.00,130) scale(0.9167,1)" style="font-size:10px;fill:#fff;stroke:#fff;stroke-width:0.18px">90.086</text>
<rect x="1614" y="153" width="36" height="11" fill="#0000ff" shape-rendering="crispEdges"/>
<text transform="translate(1618.00,162) scale(0.9167,1)" style="font-size:10px;fill:#fff;stroke:#fff;stroke-width:0.18px">89.526</text>
<rect x="1614" y="184" width="36" height="11" fill="#0000ff" shape-rendering="crispEdges"/>
<text transform="translate(1618.00,193) scale(0.9167,1)" style="font-size:10px;fill:#fff;stroke:#fff;stroke-width:0.18px">88.983</text>
</g>
<g shape-rendering="crispEdges">
<rect x="204" y="0" width="1" height="17" fill="#a0a0a0"/>
<rect x="205" y="0" width="1" height="17" fill="#ffffff"/>
<rect x="208" y="1" width="3" height="1" fill="#a0a0a0"/>
<rect x="208" y="3" width="3" height="1" fill="#a0a0a0"/>
<rect x="208" y="5" width="3" height="1" fill="#a0a0a0"/>
<rect x="208" y="7" width="3" height="1" fill="#a0a0a0"/>
<rect x="208" y="9" width="3" height="1" fill="#a0a0a0"/>
<rect x="208" y="11" width="3" height="1" fill="#a0a0a0"/>
<rect x="208" y="13" width="3" height="1" fill="#a0a0a0"/>
<rect x="208" y="15" width="3" height="1" fill="#a0a0a0"/>
<rect x="242" y="0" width="1" height="17" fill="#a0a0a0"/>
<rect x="243" y="0" width="1" height="17" fill="#ffffff"/>
<rect x="299" y="0" width="1" height="17" fill="#a0a0a0"/>
<rect x="300" y="0" width="1" height="17" fill="#ffffff"/>
<rect x="389" y="0" width="1" height="17" fill="#a0a0a0"/>
<rect x="390" y="0" width="1" height="17" fill="#ffffff"/>
<rect x="394" y="0" width="1" height="17" fill="#a0a0a0"/>
<rect x="422" y="0" width="1" height="17" fill="#a0a0a0"/>
<rect x="423" y="0" width="1" height="17" fill="#ffffff"/>
<rect x="451" y="0" width="1" height="17" fill="#a0a0a0"/>
<rect x="452" y="0" width="1" height="17" fill="#ffffff"/>
<rect x="572" y="0" width="1" height="19" fill="#a0a0a0"/>
<rect x="573" y="0" width="1" height="19" fill="#ffffff"/>
<rect x="576" y="1" width="3" height="1" fill="#a0a0a0"/>
<rect x="576" y="3" width="3" height="1" fill="#a0a0a0"/>
<rect x="576" y="5" width="3" height="1" fill="#a0a0a0"/>
<rect x="576" y="7" width="3" height="1" fill="#a0a0a0"/>
<rect x="576" y="9" width="3" height="1" fill="#a0a0a0"/>
<rect x="576" y="11" width="3" height="1" fill="#a0a0a0"/>
<rect x="576" y="13" width="3" height="1" fill="#a0a0a0"/>
<rect x="576" y="15" width="3" height="1" fill="#a0a0a0"/>
<rect x="582" y="0" width="1" height="17" fill="#a0a0a0"/>
<rect x="639" y="0" width="1" height="17" fill="#a0a0a0"/>
<rect x="640" y="0" width="1" height="17" fill="#ffffff"/>
<rect x="878" y="0" width="1" height="19" fill="#a0a0a0"/>
<rect x="879" y="0" width="1" height="19" fill="#ffffff"/>
<rect x="882" y="1" width="3" height="1" fill="#a0a0a0"/>
<rect x="882" y="3" width="3" height="1" fill="#a0a0a0"/>
<rect x="882" y="5" width="3" height="1" fill="#a0a0a0"/>
<rect x="882" y="7" width="3" height="1" fill="#a0a0a0"/>
<rect x="882" y="9" width="3" height="1" fill="#a0a0a0"/>
<rect x="882" y="11" width="3" height="1" fill="#a0a0a0"/>
<rect x="882" y="13" width="3" height="1" fill="#a0a0a0"/>
<rect x="882" y="15" width="3" height="1" fill="#a0a0a0"/>
<rect x="1028" y="0" width="1" height="17" fill="#a0a0a0"/>
<rect x="1029" y="0" width="1" height="17" fill="#ffffff"/>
<rect x="1139" y="0" width="1" height="19" fill="#a0a0a0"/>
<rect x="1140" y="0" width="1" height="19" fill="#ffffff"/>
</g>
<defs><pattern id="chk" width="2" height="2" patternUnits="userSpaceOnUse"><rect width="2" height="2" fill="#f7f7f7"/><rect width="1" height="1" fill="#ffffff"/><rect x="1" y="1" width="1" height="1" fill="#ffffff"/></pattern></defs>
<g shape-rendering="crispEdges">
<rect x="243" y="0" width="24" height="17" fill="url(#chk)"/>
<rect x="395" y="0" width="24" height="17" fill="url(#chk)"/>
<rect x="423" y="0" width="24" height="17" fill="url(#chk)"/>
<rect x="583" y="0" width="24" height="17" fill="url(#chk)"/>
<rect x="1029" y="0" width="24" height="17" fill="url(#chk)"/>
</g>
<g fill="#555" shape-rendering="crispEdges"><rect x="222" y="2" width="1" height="13"/><rect x="221" y="2" width="3" height="1"/><rect x="222" y="1" width="1" height="1"/><rect x="220" y="12" width="15" height="1"/><rect x="233" y="11" width="1" height="3"/><rect x="234" y="12" width="1" height="1"/></g>
<g fill="#0a9a0a" shape-rendering="crispEdges"><rect x="228" y="2" width="1" height="9"/><rect x="229" y="3" width="2" height="1"/><rect x="226" y="9" width="2" height="1"/></g>
<g fill="#555" shape-rendering="crispEdges"><rect x="250" y="2" width="1" height="13"/><rect x="249" y="2" width="3" height="1"/><rect x="250" y="1" width="1" height="1"/><rect x="248" y="12" width="15" height="1"/><rect x="261" y="11" width="1" height="3"/><rect x="262" y="12" width="1" height="1"/></g>
<g shape-rendering="crispEdges"><rect x="256" y="0" width="1" height="11" fill="#0a8a0a"/><rect x="254" y="1" width="5" height="8" fill="#0a8a0a"/><rect x="255" y="2" width="3" height="6" fill="#40f040"/></g>
<g fill="#555" shape-rendering="crispEdges"><rect x="278" y="2" width="1" height="13"/><rect x="277" y="2" width="3" height="1"/><rect x="278" y="1" width="1" height="1"/><rect x="276" y="12" width="15" height="1"/><rect x="289" y="11" width="1" height="3"/><rect x="290" y="12" width="1" height="1"/></g>
<path d="M277,9.5 Q280,6 282.5,4.3 Q284,3.6 286,5.6 L289.5,8.5" fill="none" stroke="#2a9a2a" stroke-width="1"/>
<line x1="318" y1="9" x2="323" y2="13.8" stroke="#b08a10" stroke-width="3.2"/>
<line x1="318" y1="9" x2="323" y2="13.8" stroke="#f0d850" stroke-width="1.6"/>
<circle cx="314" cy="5" r="5.2" fill="#d8eefa" stroke="#3a84c8" stroke-width="1.2"/>
<rect x="311" y="4.2" width="6" height="1.8" fill="#3b80b0"/>
<rect x="313.1" y="2" width="1.8" height="6" fill="#3b80b0"/>
<line x1="346" y1="9" x2="351" y2="13.8" stroke="#b08a10" stroke-width="3.2"/>
<line x1="346" y1="9" x2="351" y2="13.8" stroke="#f0d850" stroke-width="1.6"/>
<circle cx="342" cy="5" r="5.2" fill="#d8eefa" stroke="#3a84c8" stroke-width="1.2"/>
<rect x="339" y="4.2" width="6" height="1.8" fill="#3b80b0"/>
<g shape-rendering="crispEdges">
<rect x="364" y="0" width="8" height="7" fill="#2a9a1a"/>
<rect x="365" y="2" width="6" height="4" fill="#f4f4f4"/>
<rect x="366" y="4" width="4" height="1" fill="#a8d890"/>
<rect x="372" y="0" width="8" height="7" fill="#1a4fd0"/>
<rect x="373" y="2" width="6" height="4" fill="#f4f4f4"/>
<rect x="374" y="4" width="4" height="1" fill="#90a8e8"/>
<rect x="364" y="7" width="8" height="7" fill="#1a4fd0"/>
<rect x="365" y="9" width="6" height="4" fill="#f4f4f4"/>
<rect x="366" y="11" width="4" height="1" fill="#90a8e8"/>
<rect x="372" y="7" width="8" height="7" fill="#2a9a1a"/>
<rect x="373" y="9" width="6" height="4" fill="#f4f4f4"/>
<rect x="374" y="11" width="4" height="1" fill="#a8d890"/>
</g>
<g fill="#555" shape-rendering="crispEdges"><rect x="402" y="2" width="1" height="13"/><rect x="401" y="2" width="3" height="1"/><rect x="402" y="1" width="1" height="1"/><rect x="400" y="12" width="15" height="1"/><rect x="413" y="11" width="1" height="3"/><rect x="414" y="12" width="1" height="1"/></g>
<polygon points="407,3.5 411.5,6.7 407,10" fill="#40e040" stroke="#149014" stroke-width="1"/>
<g fill="#555" shape-rendering="crispEdges"><rect x="430" y="2" width="1" height="13"/><rect x="429" y="2" width="3" height="1"/><rect x="430" y="1" width="1" height="1"/><rect x="428" y="12" width="15" height="1"/><rect x="441" y="11" width="1" height="3"/><rect x="442" y="12" width="1" height="1"/></g>
<rect x="436" y="1" width="1.4" height="10" fill="#1a6aa0"/>
<path d="M438,6.5 L442,6.5 M438,6.5 L440,4.5 M438,6.5 L440,8.5" stroke="#d04010" stroke-width="1.4" fill="none"/>
<path d="M461.5,-1 L469.5,-1 L469.5,2 L472.3,2 L472.3,12.5 L461.5,12.5 Z" fill="#fcfcfc" stroke="#6a6a6a" stroke-width="0.9"/>
<path d="M466,2.3 Q464.5,2.3 464.5,4.5 L464.5,9.8 M463.5,5.2 H466" stroke="#3a3a30" stroke-width="0.9" fill="none"/>
<path d="M469.3,5.4 h3.4 v4.1 h4 v3.4 h-4 v4.1 h-3.4 v-4.1 h-4 v-3.4 h4 z" fill="#22e822" stroke="#0b8a0b" stroke-width="0.9"/>
<polygon points="483,6 489,6 486,9" fill="#000"/>
<polygon points="522,6 528,6 525,9" fill="#000"/>
<polygon points="561,6 567,6 564,9" fill="#000"/>
<polygon points="866,6 872,6 869,9" fill="#000"/>
<circle cx="507" cy="7.2" r="7.6" fill="#1a70d8"/><circle cx="507" cy="7.2" r="7.6" fill="none" stroke="#0c4aa0" stroke-width="0.7"/><rect x="504.5" y="-1" width="5" height="1.5" fill="#2a80e0"/>
<circle cx="507" cy="6.9" r="5.3" fill="#f6f6f6"/>
<path d="M506.3,3.6 L506.3,6.8 L509.6,6.8" stroke="#222" stroke-width="1.1" fill="none"/>
<rect x="538.5" y="0" width="15.5" height="13.5" rx="1" fill="#2e6ad0"/>
<rect x="540" y="2" width="12.5" height="4.8" fill="#fafafa"/><rect x="540" y="8" width="12.5" height="4.3" fill="#fafafa"/>
<path d="M540.5,5.5 L543,5 L545,4 L547,4.8 L549,3.5 L552,3.5" stroke="#a02010" stroke-width="1" fill="none"/>
<path d="M540.5,11 L542.5,10 L544.5,11 L546.5,9.5 L548.5,9 L551.5,11" stroke="#20a020" stroke-width="1" fill="none"/>
<path d="M590.3,0 L598.2,7 L595.2,7.4 L597.3,12.3 L595.5,13.3 L593.4,8.5 L590.3,10.8 Z" fill="#4a4a4a"/>
<g fill="#4a4a4a" shape-rendering="crispEdges"><rect x="622" y="0" width="1" height="6"/><rect x="622" y="9" width="1" height="6"/><rect x="615" y="7" width="6" height="1"/><rect x="624" y="7" width="6" height="1"/></g>
<g fill="#4a4a4a" shape-rendering="crispEdges"><rect x="656" y="1" width="1" height="12.5"/><rect x="679" y="7" width="12" height="1"/></g>
<line x1="706.8" y1="13.8" x2="719" y2="1.8" stroke="#4a4a4a" stroke-width="1"/>
<path d="M733,8.5 L740,1.2 M738,13.5 L747,5" stroke="#4a4a4a" stroke-width="1" fill="none"/>
<path d="M735.5,7 L736,12 M737.5,5 L738.5,10 M740,3 L741,8 M742,1 L743,6" stroke="#4a4a4a" stroke-width="1" fill="none"/>
<text x="743.5" y="15.8" style="font-size:7px;font-weight:bold;fill:#444;stroke:none">E</text>
<g fill="#4a4a4a" shape-rendering="crispEdges">
<rect x="762" y="0" width="1" height="1" fill="#4a4a4a"/>
<rect x="764" y="0" width="1" height="1" fill="#4a4a4a"/>
<rect x="766" y="0" width="1" height="1" fill="#4a4a4a"/>
<rect x="768" y="0" width="1" height="1" fill="#4a4a4a"/>
<rect x="770" y="0" width="1" height="1" fill="#4a4a4a"/>
<rect x="772" y="0" width="1" height="1" fill="#4a4a4a"/>
<rect x="774" y="0" width="1" height="1" fill="#4a4a4a"/>
<rect x="762" y="3" width="1" height="1" fill="#4a4a4a"/>
<rect x="764" y="3" width="1" height="1" fill="#4a4a4a"/>
<rect x="766" y="3" width="1" height="1" fill="#4a4a4a"/>
<rect x="768" y="3" width="1" height="1" fill="#4a4a4a"/>
<rect x="770" y="3" width="1" height="1" fill="#4a4a4a"/>
<rect x="772" y="3" width="1" height="1" fill="#4a4a4a"/>
<rect x="774" y="3" width="1" height="1" fill="#4a4a4a"/>
<rect x="762" y="7" width="1" height="1" fill="#4a4a4a"/>
<rect x="764" y="7" width="1" height="1" fill="#4a4a4a"/>
<rect x="766" y="7" width="1" height="1" fill="#4a4a4a"/>
<rect x="768" y="7" width="1" height="1" fill="#4a4a4a"/>
<rect x="770" y="7" width="1" height="1" fill="#4a4a4a"/>
<rect x="772" y="7" width="1" height="1" fill="#4a4a4a"/>
<rect x="774" y="7" width="1" height="1" fill="#4a4a4a"/>
<rect x="762" y="11" width="1" height="1" fill="#4a4a4a"/>
<rect x="764" y="11" width="1" height="1" fill="#4a4a4a"/>
<rect x="766" y="11" width="1" height="1" fill="#4a4a4a"/>
<rect x="768" y="11" width="1" height="1" fill="#4a4a4a"/>
<rect x="770" y="11" width="1" height="1" fill="#4a4a4a"/>
</g>
<text x="772" y="15.8" style="font-size:7px;font-weight:bold;fill:#444;stroke:none">F</text>
<text x="792.8" y="12" style="font-size:11px;fill:#444;stroke:#444;stroke-width:0.4px">A</text>
<g fill="#4a4a4a" shape-rendering="crispEdges">
<rect x="819" y="1" width="1" height="1" fill="#4a4a4a"/>
<rect x="819" y="13" width="1" height="1" fill="#4a4a4a"/>
<rect x="821" y="1" width="1" height="1" fill="#4a4a4a"/>
<rect x="821" y="13" width="1" height="1" fill="#4a4a4a"/>
<rect x="823" y="1" width="1" height="1" fill="#4a4a4a"/>
<rect x="823" y="13" width="1" height="1" fill="#4a4a4a"/>
<rect x="825" y="1" width="1" height="1" fill="#4a4a4a"/>
<rect x="825" y="13" width="1" height="1" fill="#4a4a4a"/>
<rect x="827" y="1" width="1" height="1" fill="#4a4a4a"/>
<rect x="827" y="13" width="1" height="1" fill="#4a4a4a"/>
<rect x="829" y="1" width="1" height="1" fill="#4a4a4a"/>
<rect x="829" y="13" width="1" height="1" fill="#4a4a4a"/>
<rect x="831" y="1" width="1" height="1" fill="#4a4a4a"/>
<rect x="831" y="13" width="1" height="1" fill="#4a4a4a"/>
<rect x="819" y="1" width="1" height="1" fill="#4a4a4a"/>
<rect x="830" y="1" width="1" height="1" fill="#4a4a4a"/>
<rect x="819" y="3" width="1" height="1" fill="#4a4a4a"/>
<rect x="830" y="3" width="1" height="1" fill="#4a4a4a"/>
<rect x="819" y="5" width="1" height="1" fill="#4a4a4a"/>
<rect x="830" y="5" width="1" height="1" fill="#4a4a4a"/>
<rect x="819" y="7" width="1" height="1" fill="#4a4a4a"/>
<rect x="830" y="7" width="1" height="1" fill="#4a4a4a"/>
<rect x="819" y="9" width="1" height="1" fill="#4a4a4a"/>
<rect x="830" y="9" width="1" height="1" fill="#4a4a4a"/>
<rect x="819" y="11" width="1" height="1" fill="#4a4a4a"/>
<rect x="830" y="11" width="1" height="1" fill="#4a4a4a"/>
<rect x="819" y="13" width="1" height="1" fill="#4a4a4a"/>
<rect x="830" y="13" width="1" height="1" fill="#4a4a4a"/>
<rect x="818" y="0" width="2" height="1" fill="#4a4a4a"/>
<rect x="821" y="4" width="6" height="1.5" fill="#4a4a4a"/>
<rect x="824" y="4" width="1.6" height="8" fill="#4a4a4a"/>
</g>
<polygon points="849.5,1 853,4.8 846,4.8" fill="#4a4a4a"/>
<polyline points="848,8.5 850.5,10.8 855,5.5" fill="none" stroke="#4a4a4a" stroke-width="1.3"/>
<polygon points="853.2,9.5 860,9.5 856.6,13.8" fill="#4a4a4a"/>
<text x="893.5" y="11" style="font-size:9.8px;fill:#222;stroke:none">M1</text>
<text x="921.5" y="11" style="font-size:9.8px;fill:#222;stroke:none">M5</text>
<text x="947.5" y="11" style="font-size:9.8px;fill:#222;stroke:none">M15</text>
<text x="975.8" y="11" style="font-size:9.8px;fill:#222;stroke:none">M30</text>
<text x="1006.6" y="11" style="font-size:9.8px;fill:#222;stroke:none">H1</text>
<text x="1033.4" y="11" style="font-size:9.8px;fill:#222;stroke:none">H4</text>
<text x="1062.3" y="11" style="font-size:9.8px;fill:#222;stroke:none">D1</text>
<text x="1089.8" y="11" style="font-size:9.8px;fill:#222;stroke:none">W1</text>
<text x="1116.4" y="11" style="font-size:9.8px;fill:#222;stroke:none">MN</text>
<defs><linearGradient id="gbk" x1="0" y1="0" x2="0" y2="1"><stop offset="0" stop-color="#fae050"/><stop offset="1" stop-color="#e0a820"/></linearGradient></defs>
<path d="M49.8,-0.3 L60.8,8.6 L52.6,14.9 L45.2,8.7 Z" fill="#c88c18" stroke="#8e5c0e" stroke-width="0.9"/>
<path d="M50.6,1.2 L58.9,8.1 L53.2,12.2 L47.4,7.9 Z" fill="url(#gbk)"/>
<path d="M46.4,9.2 L52.6,13.9" stroke="#f6dc80" stroke-width="0.9" fill="none"/>
<path d="M53.6,13.4 L59.9,8.9" stroke="#f2e2a8" stroke-width="0.8" fill="none"/>
<rect x="75.5" y="-1" width="9.5" height="9.5" fill="#1a8ae8" stroke="#0a5ab0" stroke-width="0.8"/>
<rect x="79" y="2" width="5" height="2.5" fill="#e0f0ff"/><rect x="79" y="5.5" width="5" height="1.2" fill="#e0f0ff"/>
<defs><linearGradient id="gcl" x1="0" y1="0" x2="0" y2="1"><stop offset="0" stop-color="#f8fafc"/><stop offset="1" stop-color="#c4d0e0"/></linearGradient></defs>
<circle cx="76.3" cy="12.0" r="3.5" fill="#4a6898"/>
<circle cx="80.8" cy="10.0" r="4.3" fill="#4a6898"/>
<circle cx="85.6" cy="11.7" r="3.6999999999999997" fill="#4a6898"/>
<rect x="75.5" y="11.6" width="11" height="3.9" fill="#4a6898"/>
<circle cx="76.3" cy="12.0" r="2.6" fill="url(#gcl)"/>
<circle cx="80.8" cy="10.0" r="3.4" fill="url(#gcl)"/>
<circle cx="85.6" cy="11.7" r="2.8" fill="url(#gcl)"/>
<rect x="76.3" y="11.8" width="9.4" height="2.8" fill="#d4dce8"/>
<circle cx="109" cy="7" r="7.5" fill="none" stroke="#6a90d8" stroke-width="0.9" opacity="0.8"/>
<circle cx="109" cy="7" r="5" fill="none" stroke="#4a7ad0" stroke-width="0.9" opacity="0.8"/>
<path d="M109,-0.5 A7.5,7.5 0 0 1 109,14.5" fill="none" stroke="#68b068" stroke-width="1.4" opacity="0.7"/>
<path d="M109,2 A5,5 0 0 1 109,12" fill="none" stroke="#60a860" stroke-width="1.2" opacity="0.7"/>
<circle cx="109" cy="7" r="2" fill="#2050c0"/>
<rect x="109" y="7" width="1.2" height="7.5" fill="#20a020"/>
<path d="M128.5,6.5 L143.5,6.5 L137,15 L134.5,15 Z" fill="#f2d860" stroke="#c8a020" stroke-width="0.8"/>
<ellipse cx="136" cy="3.2" rx="7.8" ry="2.4" fill="#58a8e0" stroke="#2878b8" stroke-width="0.8"/>
<path d="M133,3 Q135.5,-2 138,-1 L139,3 Z" fill="#68b8e8"/>
<circle cx="140.5" cy="10.8" r="4.2" fill="#d81e10"/>
<rect x="139" y="9.3" width="3" height="3" fill="#ffffff"/>
<g fill="none" stroke="#111" stroke-width="1" shape-rendering="crispEdges">
<path d="M0,1.5 H4.5 M0,4.5 H4.5 M2.5,4.5 V11 M0,7.5 H5 M0.5,10 L2.5,8 M4.5,10 L3,8.5"/>
<path d="M6.5,2.5 V10.5 M6.5,3 L9.5,1.5 M6.5,5.5 H10.5 M9.5,5.5 V11"/>
<path d="M11,1 L12,2 M11,4.5 H12.5 V9.5 L13.5,8.5"/>
<path d="M13.5,1.5 H21 M17.5,1.5 V10.5 L16,9.5"/>
<path d="M24,0 L25,1 M30,0 L29,1 M23.5,1.5 H30.5 V6.5 H23.5 Z M23.5,4 H30.5 M27,1.5 V11 M21.5,8.5 H33"/>
<path d="M151,1.5 H159 V10.5 H151 Z M151,4.5 H159 M151,7.5 H159 M155,0 L154,1.5"/>
<path d="M162,1.5 H167 M161.5,4.5 H167.5 M164,4.5 L162,9.5 H167 M166,7.5 L167,10 M168,3.5 H172.5 V10 L171,9.5 M169.5,0 V5 Q169,9 167.5,11"/>
<path d="M178.5,0 V1.5 M173.5,2 H185 M176.5,3.5 L174.5,5.5 M181,3.5 L183.5,5.5 M176,6 L183.5,11 M182.5,6 L174,11"/>
<path d="M187.5,0.5 H195 V4 H187.5 Z M187.5,2.3 H195 M188.5,5 L187,7 M187.5,6 H196 V10.5 L194.5,11 M190,6.5 L187.5,10.5 M192.5,6.5 L190,10.5"/>
</g>
<line x1="1606.3" y1="7.6" x2="1602.6" y2="11.4" stroke="#1d5fd0" stroke-width="2.6" stroke-linecap="round"/>
<circle cx="1609.4" cy="4.3" r="3.4" fill="#f0f4ff" stroke="#2368d8" stroke-width="1.3"/>
<path d="M1628,13.5 L1628.8,11.5 Q1626,10 1626.5,7.5 Q1627.5,4.3 1632,4.3 Q1637.5,4.5 1637.5,8 Q1637,11.8 1631.5,11.8 L1629,14.5 Z" fill="#e4e6ee" stroke="#9a9a9a" stroke-width="0.8"/>
<circle cx="1640.6" cy="4.2" r="8.4" fill="#de3a1c"/>
<text x="1637.2" y="9.2" style="font-size:12.5px;font-family:'Liberation Serif',serif;fill:#fff;stroke:none;font-weight:bold">1</text>
</svg>
</body></html>
